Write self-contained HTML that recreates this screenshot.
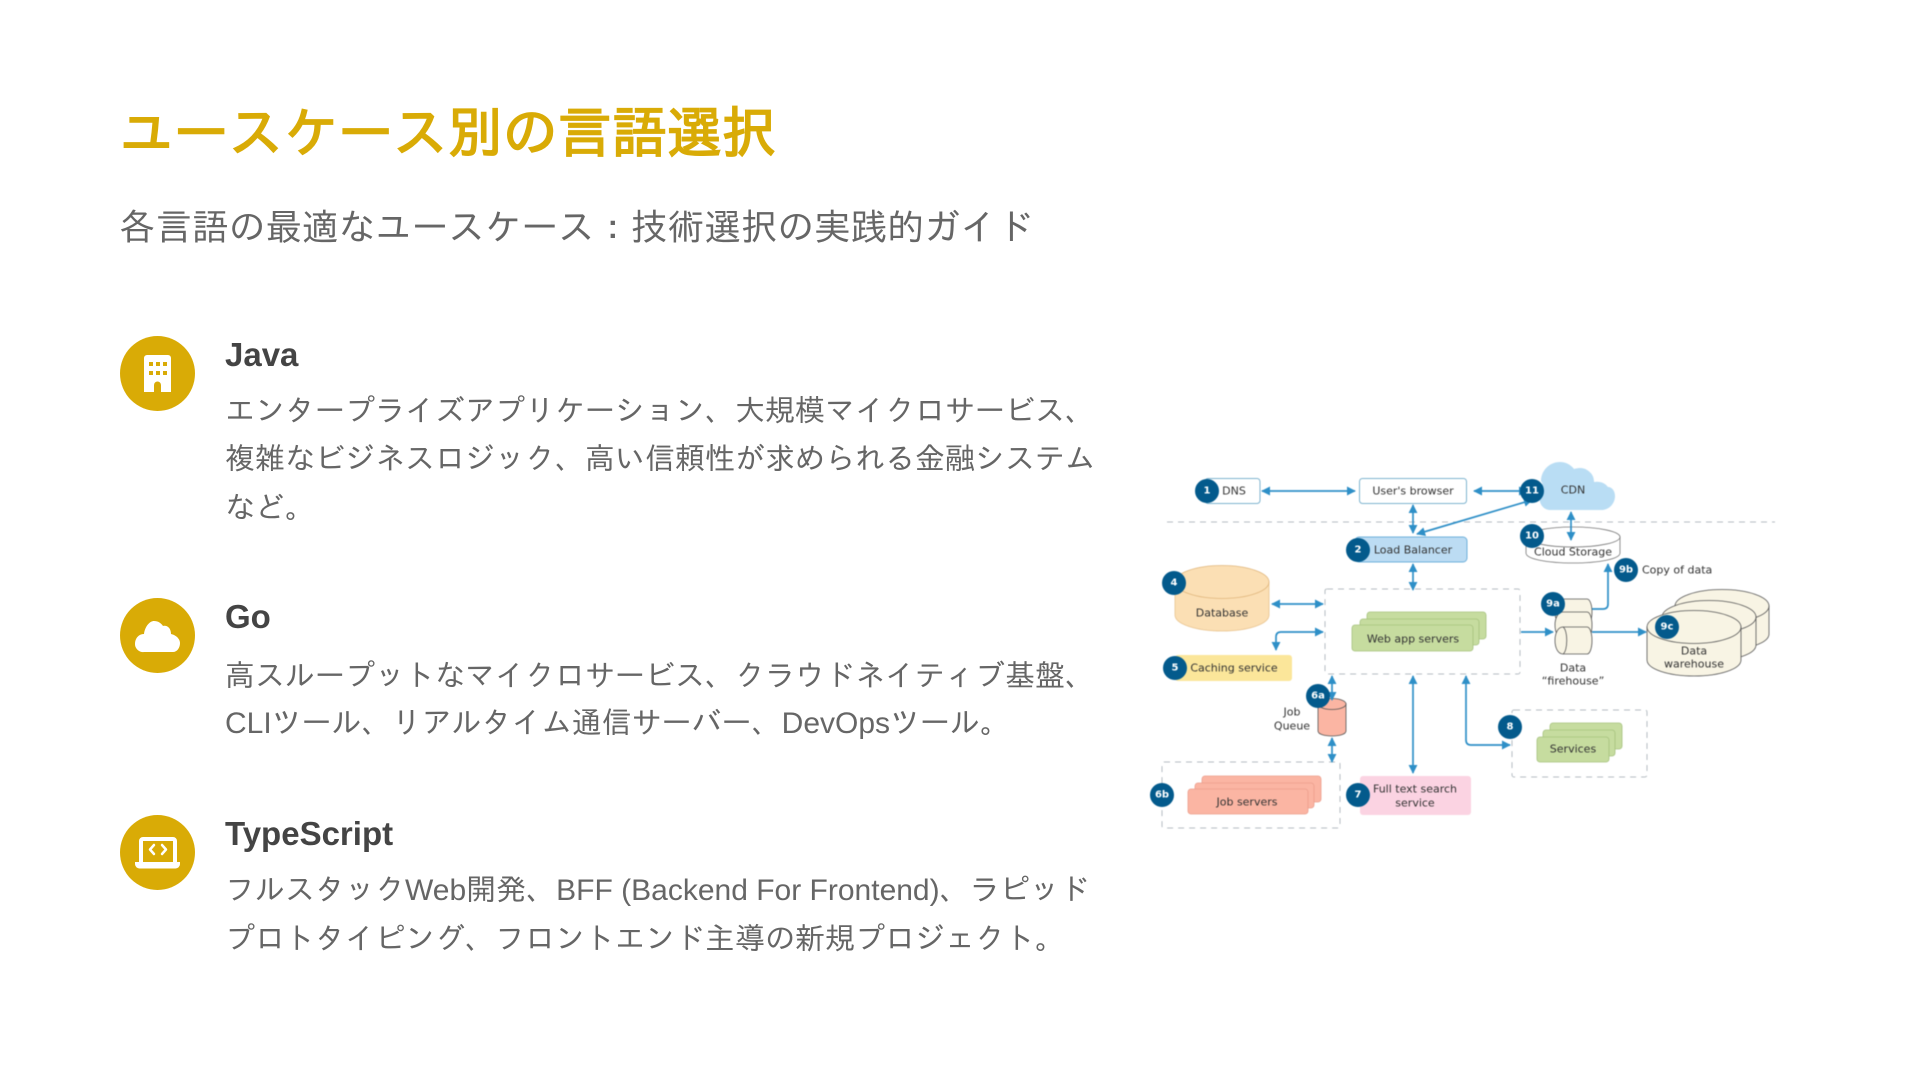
<!DOCTYPE html>
<html lang="ja"><head><meta charset="utf-8"><title>ユースケース別の言語選択</title>
<style>
html,body{margin:0;padding:0;background:#fff}
#p{position:relative;width:1920px;height:1080px;overflow:hidden;background:#fff;font-family:"Liberation Sans","IPAGothic",sans-serif}
.t{position:absolute;white-space:nowrap;left:225px}
.title{left:119px;top:98px;font-size:54.800px;line-height:70px;font-weight:bold;color:#d9ab06}
.sub{left:119px;top:204px;font-size:36.600px;line-height:48px;color:#666}
.h{font-size:33px;line-height:40px;font-weight:bold;color:#444}
.b{font-size:30px;line-height:48px;color:#666}
svg{position:absolute;left:0;top:0}
#d text{font-family:"DejaVu Sans",sans-serif;font-size:11px;fill:#333;text-anchor:middle;dominant-baseline:central}
#d .n{font-weight:bold;fill:#fff;font-size:10px}
</style></head><body><div id="p">
<div class="t title">ユースケース別の言語選択</div>
<div class="t sub">各言語の最適なユースケース&#xFF1A;技術選択の実践的ガイド</div>

<div class="t h" style="top:335px">Java</div>
<div class="t b" style="top:388px">エンタープライズアプリケーション、大規模マイクロサービス、</div>
<div class="t b" style="top:436px">複雑なビジネスロジック、高い信頼性が求められる金融システム</div>
<div class="t b" style="top:485px">など。</div>

<div class="t h" style="top:597px">Go</div>
<div class="t b" style="top:653px">高スループットなマイクロサービス、クラウドネイティブ基盤、</div>
<div class="t b" style="top:700px">CLIツール、リアルタイム通信サーバー、DevOpsツール。</div>

<div class="t h" style="top:814px">TypeScript</div>
<div class="t b" style="top:867px">フルスタックWeb開発、BFF (Backend For Frontend)、ラピッド</div>
<div class="t b" style="top:916px">プロトタイピング、フロントエンド主導の新規プロジェクト。</div>

<svg width="1920" height="1080" viewBox="0 0 1920 1080">
<g fill="#d9ab06"><circle cx="157.500" cy="373.500" r="37.500"/><circle cx="157.500" cy="635.500" r="37.500"/><circle cx="157.500" cy="852.500" r="37.500"/></g>
<g fill="#fff">
<path d="M147 355h21a3 3 0 0 1 3 3v34h-10v-7a3.500 3.500 0 0 0-7 0v7h-10v-34a3 3 0 0 1 3-3z"/>
<path d="M144 652a8 8 0 0 1-9-8c0-6 4-10 9-10 1-8 6-13 10-13 4 0 7 2 9 5 4-1 8 2 8 8 5 1 9 5 9 9 0 5-3 9-7 9z"/>
<path d="M143 837h30a4 4 0 0 1 4 4v21h-4v-21h-30v21h-4v-21a4 4 0 0 1 4-4z"/>
<path d="M135 862h45v2a4.500 4.500 0 0 1-4.500 4.500h-36a4.500 4.500 0 0 1-4.500-4.500z"/>
</g>
<g fill="#d9ab06">
<rect x="149" y="362" width="4" height="4"/><rect x="156" y="362" width="4" height="4"/><rect x="163" y="362" width="4" height="4"/>
<rect x="149" y="371" width="4" height="4"/><rect x="156" y="371" width="4" height="4"/><rect x="163" y="371" width="4" height="4"/>
</g>
<g fill="none" stroke="#fff" stroke-width="2.500" stroke-linecap="round" stroke-linejoin="round"><path d="M154 845l-4 4.500 4 4.500M162 845l4 4.500-4 4.500"/></g>

<defs>
<marker id="a" viewBox="0 0 10 10" refX="9" refY="5" markerWidth="9" markerHeight="9" markerUnits="userSpaceOnUse" orient="auto-start-reverse"><path d="M0 0L10 5L0 10z" fill="#2e8fc7"/></marker>
</defs>
<g id="d" style="filter:blur(.5px)">
<!-- dashed -->
<g fill="none" stroke="#b5bcc2" stroke-width="1" stroke-dasharray="6 5">
<path d="M1167 522H1775"/>
<rect x="1325" y="589" width="195" height="85" rx="2"/>
<rect x="1162" y="762" width="178" height="66" rx="2"/>
<rect x="1512" y="710" width="135" height="67" rx="2"/>
</g>
<!-- boxes -->
<rect x="1205" y="478.500" width="55" height="25" rx="3" fill="#fff" stroke="#7fb4cf"/>
<rect x="1359.500" y="478.500" width="107" height="25" rx="3" fill="#fff" stroke="#7fb4cf"/>
<rect x="1355" y="537" width="112" height="25" rx="4" fill="#bcdcf3" stroke="#6fb0da"/>
<rect x="1175" y="655" width="117" height="26" rx="3" fill="#fbe69a"/>
<rect x="1360" y="776" width="111" height="39" rx="3" fill="#fbd3e2"/>
<!-- stacks -->
<g fill="#c6dc9f" stroke="#a6c27e" stroke-width=".8">
<rect x="1367" y="612" width="119" height="27" rx="3"/><rect x="1360" y="619" width="119" height="26" rx="3"/><rect x="1352" y="625" width="121" height="26" rx="3"/>
<rect x="1550" y="723" width="72" height="26" rx="3"/><rect x="1543" y="730" width="72" height="26" rx="3"/><rect x="1537" y="737" width="72" height="25" rx="3"/>
</g>
<g fill="#fbb5a3" stroke="#eb9f8d" stroke-width=".8">
<rect x="1202" y="776" width="119" height="26" rx="3"/><rect x="1195" y="783" width="119" height="25" rx="3"/><rect x="1188" y="789" width="120" height="25" rx="3"/>
</g>
<!-- database -->
<path d="M1175 582v33c0 9 21 16 47 16s47-7 47-16v-33z" fill="#fbdfb4" stroke="#e9c48f" stroke-width=".8"/>
<ellipse cx="1222" cy="582" rx="47" ry="16.500" fill="#fbdfb4" stroke="#e0b67c" stroke-width=".8"/>
<!-- job queue -->
<path d="M1318 704v27c0 3 6 5 14 5s14-2 14-5v-27z" fill="#fbb5a3" stroke="#555" stroke-width=".8"/>
<ellipse cx="1332" cy="704" rx="14" ry="5.500" fill="#fbb5a3" stroke="#555" stroke-width=".8"/>
<!-- cloud -->
<path d="M1549 510c-7-1-11-8-9-17 1-6 4-9 1-12 0-10 8-19 19-19 6 0 11 3 14 7 3-1 9-2 13 1 5 3 7 7 7 12 6-1 11 1 14 5 4 0 7 4 7 9 0 7-5 13-12 14z" fill="#b9ddf4"/>
<!-- cloud storage -->
<path d="M1526 537v16c0 6 21 10 47 10s47-4 47-10v-16z" fill="#fff" stroke="#777" stroke-width=".8"/>
<ellipse cx="1573" cy="537" rx="47" ry="10" fill="#fff" stroke="#777" stroke-width=".8"/>
<!-- firehouse -->
<g fill="#f8f4e4" stroke="#555" stroke-width=".8">
<path d="M1563 599h24c3 0 5 6 5 13s-2 13-5 13h-24c-5 0-8-6-8-13s3-13 8-13z"/>
<path d="M1563 612h24c3 0 5 6 5 13s-2 14-5 14h-24c-5 0-8-7-8-14s3-13 8-13z"/>
<path d="M1563 627h24c3 0 5 6 5 13.500s-2 13.500-5 13.500h-24c-5 0-8-6-8-13.500s3-13.500 8-13.500z"/>
<path d="M1563 627c5 3 5 24 0 27" fill="none"/>
</g>
<!-- warehouse -->
<g fill="#f8f4e4" stroke="#555" stroke-width=".8">
<path d="M1675 606v28c0 9 21 16 47 16s47-7 47-16v-28z"/><ellipse cx="1722" cy="606" rx="47" ry="16.500"/>
<path d="M1662 617v28c0 9 21 16 47 16s47-7 47-16v-28z"/><ellipse cx="1709" cy="617" rx="47" ry="16.500"/>
<path d="M1647 627v33c0 9 21 16 47 16s47-7 47-16v-33z"/><ellipse cx="1694" cy="627" rx="47" ry="16.500"/>
</g>
<!-- arrows -->
<g fill="none" stroke="#2e8fc7" stroke-width="1.700" marker-start="url(#a)" marker-end="url(#a)">
<path d="M1262 491H1355"/>
<path d="M1413 505V533"/>
<path d="M1413 564V590"/>
<path d="M1532 500L1417 534"/>
<path d="M1474 491H1527"/>
<path d="M1571 512V540"/>
<path d="M1272 604H1323"/>
<path d="M1276 650V637q0-5 5-5H1323"/>
<path d="M1332 676V700"/>
<path d="M1332 738V762"/>
<path d="M1413 676V773"/>
<path d="M1466 676V740q0 5 5 5H1510"/>
</g>
<g fill="none" stroke="#2e8fc7" stroke-width="1.700" marker-end="url(#a)">
<path d="M1521 632H1553"/>
<path d="M1592 632H1646"/>
<path d="M1592 609H1603q5 0 5-5V564"/>
</g>
<!-- badges -->
<g fill="#035a8c">
<circle cx="1207" cy="491" r="12"/><circle cx="1358" cy="550" r="12"/><circle cx="1174" cy="583" r="12"/><circle cx="1175" cy="668" r="12"/>
<circle cx="1318" cy="696" r="12"/><circle cx="1162" cy="795" r="12"/><circle cx="1358" cy="795" r="12"/><circle cx="1510" cy="727" r="12"/>
<circle cx="1553" cy="604" r="12"/><circle cx="1626" cy="570" r="12"/><circle cx="1667" cy="627" r="12"/><circle cx="1532" cy="536" r="12"/><circle cx="1532" cy="491" r="12"/>
</g>
<g>
<text class="n" x="1207" y="491">1</text><text class="n" x="1358" y="550">2</text><text class="n" x="1174" y="583">4</text><text class="n" x="1175" y="668">5</text>
<text class="n" x="1318" y="696">6a</text><text class="n" x="1162" y="795">6b</text><text class="n" x="1358" y="795">7</text><text class="n" x="1510" y="727">8</text>
<text class="n" x="1553" y="604">9a</text><text class="n" x="1626" y="570">9b</text><text class="n" x="1667" y="627">9c</text><text class="n" x="1532" y="536">10</text><text class="n" x="1532" y="491">11</text>
<text x="1234" y="491">DNS</text><text x="1413" y="491">User's browser</text><text x="1413" y="550">Load Balancer</text>
<text x="1222" y="613">Database</text><text x="1234" y="668">Caching service</text><text x="1413" y="639">Web app servers</text>
<text x="1292" y="712">Job</text><text x="1292" y="726">Queue</text><text x="1247" y="802">Job servers</text>
<text x="1415" y="789">Full text search</text><text x="1415" y="803">service</text><text x="1573" y="749">Services</text>
<text x="1573" y="490">CDN</text><text x="1573" y="552">Cloud Storage</text><text x="1642" y="570" style="text-anchor:start">Copy of data</text>
<text x="1573" y="668">Data</text><text x="1573" y="681">“firehouse”</text><text x="1694" y="651">Data</text><text x="1694" y="664">warehouse</text>
</g>
</g>
</svg>
</div></body></html>
